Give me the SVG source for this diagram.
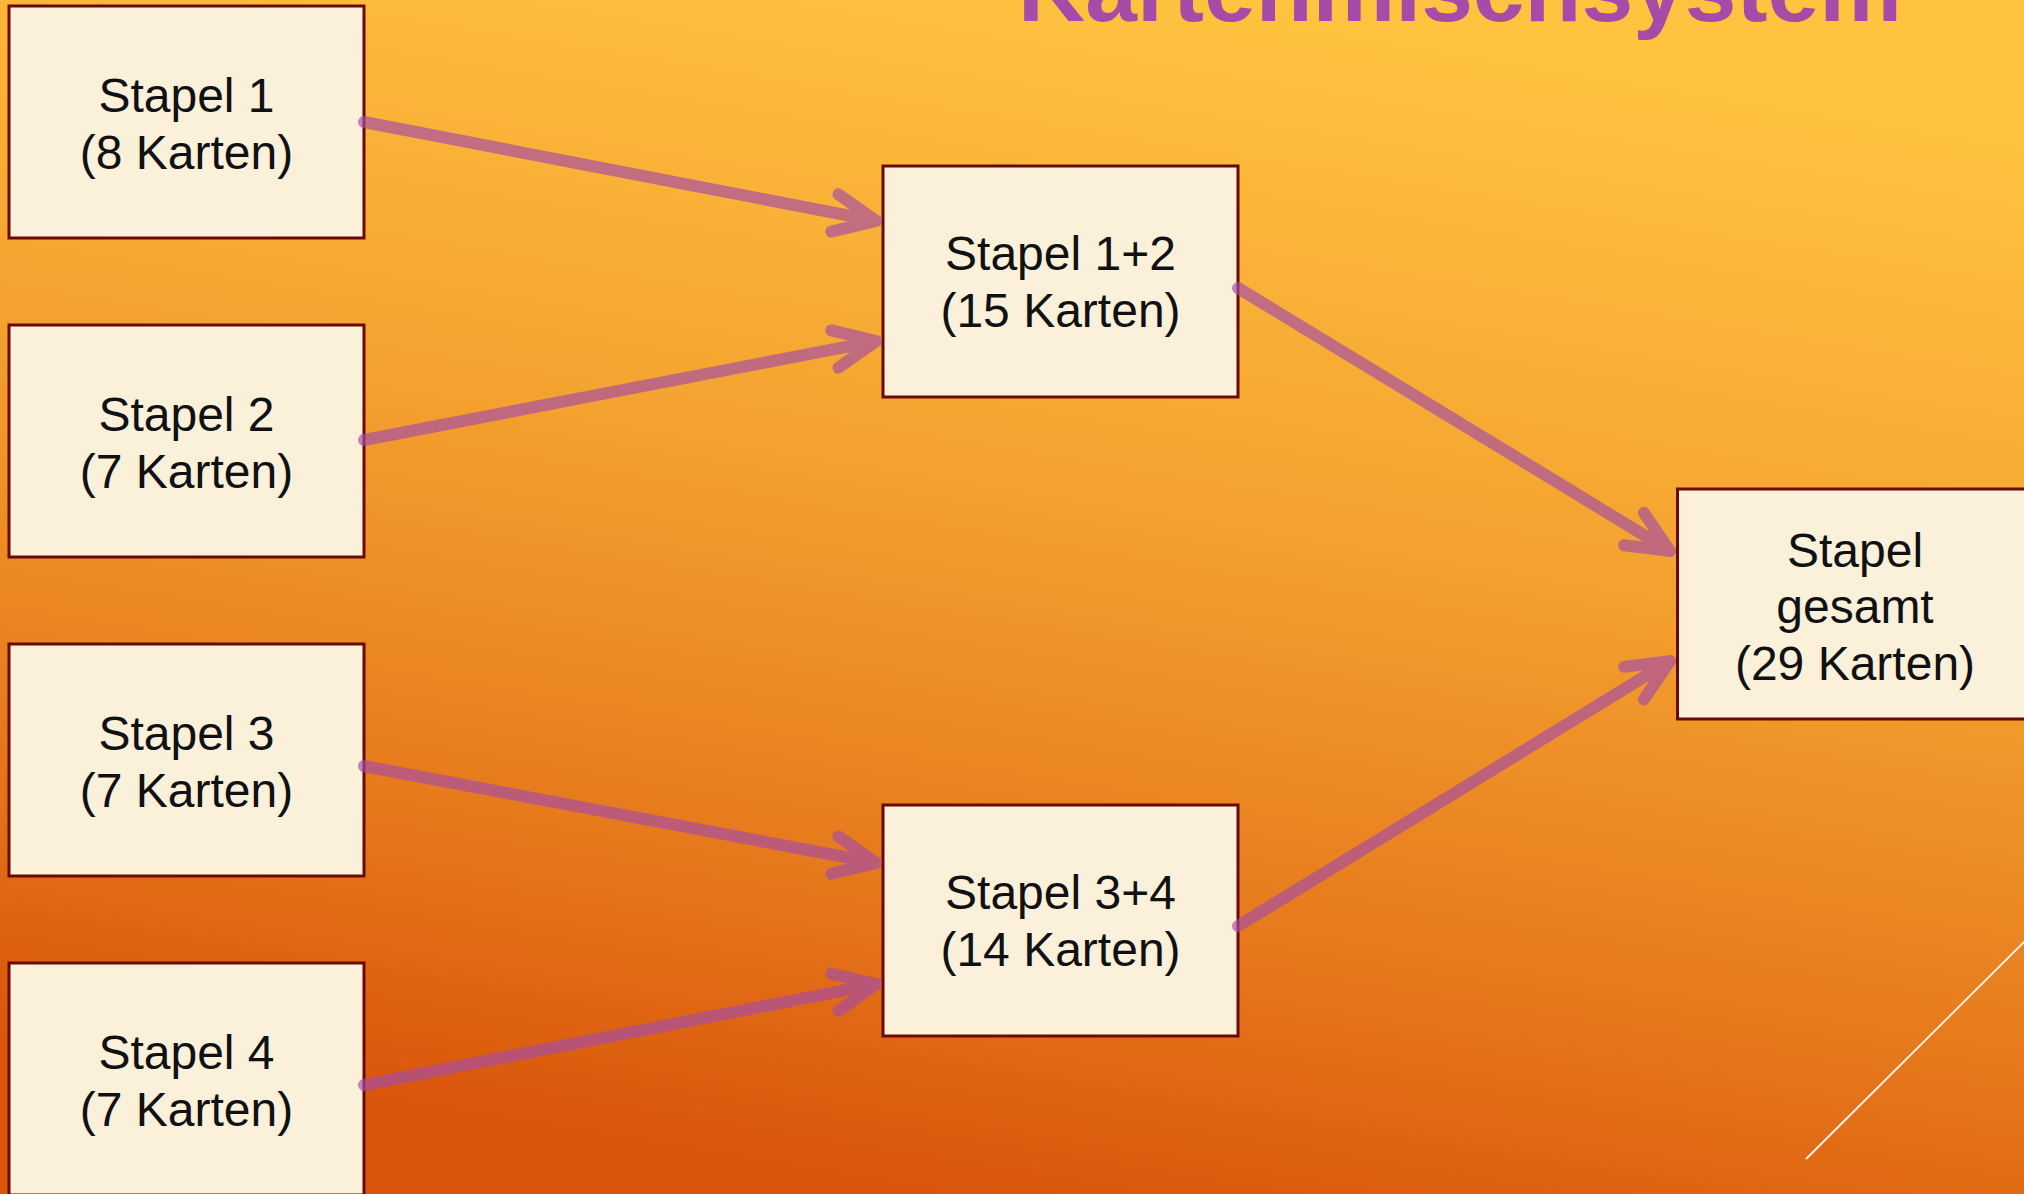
<svg xmlns="http://www.w3.org/2000/svg" width="2024" height="1194" viewBox="0 0 2024 1194">
  <defs>
    <linearGradient id="bg" gradientUnits="userSpaceOnUse" x1="1120" y1="-20" x2="920" y2="1194">
      <stop offset="0" stop-color="#FFC33F"/>
      <stop offset="0.4" stop-color="#F4A330"/>
      <stop offset="0.75" stop-color="#E6791C"/>
      <stop offset="1" stop-color="#DA550B"/>
    </linearGradient>
    <marker id="chevron" markerUnits="userSpaceOnUse" viewBox="-50 -30 60 60" markerWidth="60" markerHeight="60" refX="0" refY="0" orient="auto" overflow="visible">
      <path d="M-42,-19 L0,0 L-42,19" fill="none" stroke="#A64CA6" stroke-width="12" stroke-linecap="round" stroke-linejoin="round"/>
    </marker>
    <style>
      .box { fill: #FBF0D9; stroke: #6A0A06; stroke-width: 3; }
      .label { font-family: "Liberation Sans", Arial, sans-serif; font-size: 48px; fill: #111111; text-anchor: middle; }
      .conn { fill: none; stroke: #A64CA6; stroke-width: 12; stroke-linecap: round; marker-end: url(#chevron); }
      .title { font-family: "Liberation Sans", Arial, sans-serif; font-weight: bold; font-size: 92px; fill: #A74BA9; }
    </style>
  </defs>

  <!-- slide background -->
  <rect x="0" y="0" width="2024" height="1194" fill="url(#bg)"/>
  <line x1="1806" y1="1159" x2="2030" y2="936" stroke="#FFFFFF" stroke-width="1.8" stroke-opacity="0.95"/>

  <!-- heading, partly above the top edge -->
  <text class="title" x="1018" y="21" textLength="884" lengthAdjust="spacingAndGlyphs">Kartenmischsystem</text>

  <!-- source piles -->
  <g id="stapel1">
    <rect class="box" x="9" y="6" width="355" height="232"/>
    <text class="label" x="186.5" y="112">Stapel 1</text>
    <text class="label" x="186.5" y="168.5">(8 Karten)</text>
  </g>
  <g id="stapel2">
    <rect class="box" x="9" y="325" width="355" height="232"/>
    <text class="label" x="186.5" y="431">Stapel 2</text>
    <text class="label" x="186.5" y="487.5">(7 Karten)</text>
  </g>
  <g id="stapel3">
    <rect class="box" x="9" y="644" width="355" height="232"/>
    <text class="label" x="186.5" y="750">Stapel 3</text>
    <text class="label" x="186.5" y="806.5">(7 Karten)</text>
  </g>
  <g id="stapel4">
    <rect class="box" x="9" y="963" width="355" height="232"/>
    <text class="label" x="186.5" y="1069">Stapel 4</text>
    <text class="label" x="186.5" y="1125.5">(7 Karten)</text>
  </g>

  <!-- merged piles -->
  <g id="stapel12">
    <rect class="box" x="883" y="166" width="355" height="231"/>
    <text class="label" x="1060.5" y="270">Stapel 1+2</text>
    <text class="label" x="1060.5" y="326.5">(15 Karten)</text>
  </g>
  <g id="stapel34">
    <rect class="box" x="883" y="805" width="355" height="231"/>
    <text class="label" x="1060.5" y="909">Stapel 3+4</text>
    <text class="label" x="1060.5" y="965.5">(14 Karten)</text>
  </g>

  <!-- final pile -->
  <g id="gesamt">
    <rect class="box" x="1677.5" y="489" width="355" height="230"/>
    <text class="label" x="1855" y="567">Stapel</text>
    <text class="label" x="1855" y="623">gesamt</text>
    <text class="label" x="1855" y="680">(29 Karten)</text>
  </g>

  <!-- connectors, translucent over background and boxes -->
  <g id="connectors" opacity="0.66">
    <path class="conn" d="M364,122 L876.1,220.9"/>
    <path class="conn" d="M364,440 L876.1,341.1"/>
    <path class="conn" d="M364,766 L876.1,862.9"/>
    <path class="conn" d="M364,1085 L876.1,984.1"/>
    <path class="conn" d="M1238,288 L1669.9,550.9"/>
    <path class="conn" d="M1238,926 L1669.9,661.1"/>
  </g>
</svg>
